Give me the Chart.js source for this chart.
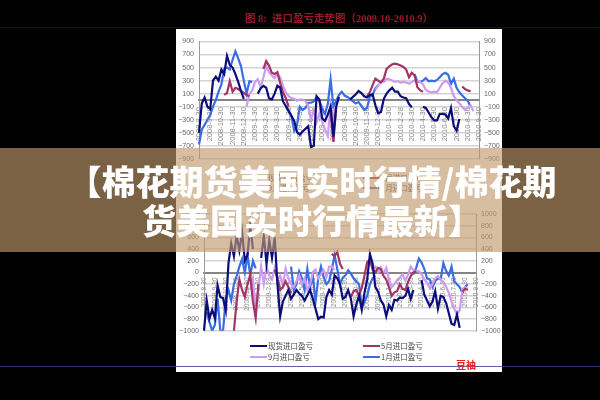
<!DOCTYPE html>
<html>
<head>
<meta charset="utf-8">
<script src="https://cdn.jsdelivr.net/npm/chart.js@4/dist/chart.umd.min.js"></script>
<style>
html, body { margin: 0; padding: 0; background: #000; width: 600px; height: 400px; overflow: hidden; }
div, canvas { position: absolute; }
#panel { left: 176px; top: 29px; width: 326px; height: 343px; background: #fff; }
#rule1 { left: 0; top: 27px; width: 600px; height: 1px; background: #10103c; }
#rule2 { left: 0; top: 366px; width: 600px; height: 1px; background: rgba(60,60,130,0.8); z-index: 4; }
#title { left: 176px; width: 326px; top: 12px; text-align: center; color: #98182a; white-space: pre;
  font: bold 10.5px "Liberation Serif", "Noto Sans CJK SC"; line-height: 14px; filter: blur(0.4px); }
#c1 { left: 176px; top: 28px; filter: blur(0.6px); }
#c2 { left: 176px; top: 205px; filter: blur(0.6px); }
.leg { color: #444; font: 7.5px "Noto Sans CJK SC"; line-height: 10px; white-space: nowrap; filter: blur(0.25px); }
.swatch { height: 2px; width: 17px; }
#band { left: 0; top: 148px; width: 600px; height: 104px; background: rgba(194,154,107,0.64); z-index: 2; }
.headline { left: 12px; width: 600px; text-align: center; color: #fff; z-index: 3; white-space: nowrap;
  font: 900 34px "Noto Sans CJK SC"; line-height: 42px; filter: blur(0.4px); }
#stamp { left: 456px; top: 358px; color: #e8201c; font: bold 10px "Noto Sans CJK SC"; line-height: 14px; z-index: 5; }
</style>
</head>
<body>
<div id="panel"></div>
<div id="rule1"></div>
<div id="title">图 8:  进口盈亏走势图（2008.10-2010.9）</div>
<canvas id="c1" width="326" height="140"></canvas>
<canvas id="c2" width="326" height="135"></canvas>
<div id="legends"></div>
<div id="band"></div>
<div class="headline" style="top:160px">【棉花期货美国实时行情/棉花期</div>
<div class="headline" style="top:199px">货美国实时行情最新】</div>
<div id="rule2"></div>
<div id="stamp">豆袖</div>
<script>
const _ = null;

const seriesNames = ['现货进口盈亏', '5月进口盈亏', '9月进口盈亏', '1月进口盈亏'];
const seriesColors = ['#0c0c7a', '#a23565', '#cc9cf0', '#3a6ce4'];

const months = ['2008-8-30', '2008-9-30', '2008-10-30', '2008-11-30', '2008-12-30',
  '2009-1-30', '2009-2-28', '2009-3-30', '2009-4-30', '2009-5-30', '2009-6-30', '2009-7-30',
  '2009-8-30', '2009-9-30', '2009-10-30', '2009-11-30', '2009-12-30',
  '2010-1-30', '2010-2-28', '2010-3-30', '2010-4-30', '2010-5-30', '2010-6-30', '2010-7-30',
  '2010-8-30', '2010-9-30'];

const topTicks = [-900, -700, -500, -300, -100, 100, 300, 500, 700, 900];
const bottomTicks = [-1000, -800, -600, -400, -200, 0, 200, 400, 600, 800, 1000];

// top chart, four readings per month
const topSpot = [
  -500, -50, 40, -100, -140, 300, 360, 300, 470, 400,
  680, 540, 500, 400, 280, 140, 20, _, _, _,
  _, 100, 180, 220, 190, 30, 10, 100, 220, 190,
  -20, -90, -170, -240, -320, -490, -530, -480, -440, -400,
  -720, -700, 60, 10, -280, -320, -220, -100, -560, -100,
  50, _, _, _, 10, 50, 90, 140, 110, 60,
  40, 80, 90, -80, -200, -180, 20, 100, 150, 190,
  130, 130, 60, 40, 30, -60, -110, _, _, _,
  -100, -120, -190, -260, -310, -310, -210, -210, -220, -280,
  -120, -400, -470, -290, _, _, _, _, _, _, _];
const topMay = [
  _, _, _, _, _, _, _, _, _, 80,
  110, 290, 130, 190, 170, 140, 110, 80, 60, _,
  _, _, _, 480, 600, 530, 420, 400, 430, 260,
  120, 30, -100, _, _, _, _, _, _, _,
  _, _, _, _, _, _, _, -200, -640, -100,
  _, _, _, _, _, _, _, _, _, _,
  60, 120, 230, 330, 300, 270, 330, 480, 520, 550,
  560, 550, 530, 510, 470, 350, 420, 380, 200, 150,
  130, _, _, _, _, _, _, _, _, _,
  _, _, _, _, 210, 170, 150, 135, _, _, _];
const topSep = [
  _, _, _, _, _, _, _, _, _, _,
  _, _, _, _, _, _, _, -100, 100, 150,
  280, 320, 200, 350, 520, 430, 380, 340, 400, 350,
  220, 120, 60, 30, 20, -10, 10, 10, -10, -100,
  -300, -150, -340, -200, -330, -450, -550, -80, -300, -100,
  _, _, _, _, _, _, _, _, _, _,
  _, _, _, 160, 220, 300, 280, 330, 320, 300,
  280, 290, 270, 280, 270, 250, 280, 300, 290, 280,
  240, 160, 130, 120, 130, 120, 190, 260, 300, 270,
  190, 60, 0, -50, -100, -150, -120, -80, -170, _, _];
const topJan = [
  -680, -450, -380, -300, -230, -100, 0, 130, 240, 480,
  500, 470, 620, 750, 640, 520, 300, 100, 290, 280,
  _, _, _, _, _, _, _, _, _, _,
  _, -100, -150, -250, -470, -380, -100, -150, -120, -40,
  -40, -20, 50, -10, -130, -210, -60, 320, -100, -10,
  80, 130, 70, 50, 20, -20, -50, -30, -90, -150,
  -120, 50, 80, 180, 230, _, _, _, _, _,
  _, _, _, _, _, _, _, 400, 280, 280,
  300, 340, 290, 300, 290, 310, 350, 400, 420, 390,
  250, 330, 190, 120, 70, 30, -10, -100, _, _, _];

// bottom chart
const bottomSpot = [
  -1000, -480, -790, -640, -780, -220, -420, -440, -650, 160,
  500, 280, 640, 380, 700, 200, 300, 800, 400, _,
  _, 250, 620, 150, 550, 250, 600, -200, -750, -500,
  -400, -300, -450, -380, -300, -360, -400, -480, -390, -300,
  -450, -620, -800, -760, -770, -420, -300, -380, -50, -100,
  -200, -450, -420, -300, -450, -750, -550, -400, -640, -350,
  -120, 320, 150, -250, -330, -480, -550, -750, -560, -640,
  -470, -480, -430, -440, -400, -280, -450, -300, _, _,
  -130, -380, -480, -580, -500, -320, -620, -400, -420, -520,
  -700, -880, -900, -720, -950, _, _, _, _, _, _];
const bottomMay = [
  _, _, _, _, _, _, _, _, _, _,
  _, -1000, -500, -120, -300, -420, -200, -40, -500, -780,
  -200, _, _, _, _, _, 50, -100, -300, -250,
  -150, -250, -350, _, _, _, _, _, _, _,
  _, _, _, _, _, _, _, 320, 280, 350,
  150, 60, _, _, -420, -320, -300, -400, -260, -50,
  180, 220, 50, 0, 80, 60, -60, -120, -250, -400,
  -340, -320, -200, -280, -300, -160, -60, 0, 20, _,
  _, _, _, _, _, _, _, _, _, _,
  _, _, _, _, _, -330, -280, -300, _, _, _];
const bottomSep = [
  _, _, _, _, _, _, _, _, _, _,
  _, _, _, _, _, _, _, -300, -100, -680,
  -300, 100, -200, 100, -50, -120, 80, -120, -50, -220,
  70, -100, -200, -250, -150, -50, -200, -100, -300, -200,
  0, 50, -100, -30, 40, -80, 100, 100, 40, _,
  _, _, _, _, _, _, _, _, _, _,
  _, _, 60, 100, 0, 90, -20, 80, -120, -250,
  -200, -130, -90, -30, -140, -40, 100, 40, 30, 20,
  -30, -120, -170, -270, -200, -100, -60, -120, -180, -240,
  -350, -500, -620, -720, -650, -300, -250, -280, _, _, _];
const bottomJan = [
  _, -680, -850, -1000, -900, -450, -1000, -1000, -450, -300,
  -480, -200, -60, 100, 230, 0, 300, -50, 200, 70,
  _, _, _, _, _, _, _, _, _, _,
  _, _, 100, -300, -200, 20, -100, -300, 60, -250,
  -50, -500, -100, 100, -80, -200, -150, 50, 300, 60,
  -200, -90, -50, 40, -20, -100, -150, -200, -600, -500,
  -400, -200, -100, -50, _, _, _, _, _, _,
  _, _, _, _, _, _, _, -30, 80, 240,
  170, 60, -100, -120, -250, -150, -100, -120, 160, 30,
  -50, 100, -150, -200, -250, -350, -250, -200, _, _, _];

// one month label followed by three blank weeks
const weekLabels = [];
months.forEach((m, i) => {
  weekLabels.push(m);
  if (i < months.length - 1) weekLabels.push('', '', '');
});

const font = { family: '"Liberation Sans"', size: 7 };

function yAxis(position, ticks, width, showGrid) {
  return {
    position: position,
    min: ticks[0],
    max: ticks[ticks.length - 1],
    afterBuildTicks: axis => { axis.ticks = ticks.map(v => ({ value: v })); },
    afterFit: axis => { axis.width = width; },
    border: { color: '#999', width: 1 },
    grid: { display: showGrid, color: '#d4d4d4', lineWidth: 1.5, drawTicks: false },
    ticks: {
      color: '#666', font: font, padding: 5, autoSkip: false,
      callback: v => String(v).replace('-', '\u2212')
    }
  };
}

function drawChart(id, values, ticks, sizes) {
  return new Chart(document.getElementById(id), {
    type: 'line',
    data: {
      labels: weekLabels,
      datasets: values.map((v, i) => ({
        label: seriesNames[i],
        data: v,
        yAxisID: 'y',
        borderColor: seriesColors[i],
        borderWidth: 2.2,
        pointRadius: 0,
        tension: 0,
        spanGaps: false
      }))
    },
    options: {
      responsive: false,
      animation: false,
      layout: { padding: { top: sizes.top, bottom: sizes.bottom, left: 0, right: 0 } },
      plugins: { legend: { display: false }, tooltip: { enabled: false } },
      scales: {
        x: {
          type: 'category',
          position: { y: 0 },
          border: { color: '#858585', width: 2 },
          grid: { display: false, drawTicks: false },
          ticks: {
            color: '#888', font: { family: '"Liberation Sans"', size: sizes.labelSize },
            autoSkip: false, minRotation: 90, maxRotation: 90, padding: sizes.labelGap
          }
        },
        y: yAxis('left', ticks, sizes.left, true),
        y2: yAxis('right', ticks, sizes.right, false)
      }
    }
  });
}

drawChart('c1', [topSpot, topMay, topSep, topJan], topTicks,
  { top: 13.5, bottom: 9, left: 23, right: 23, labelSize: 7.5, labelGap: 7 });
drawChart('c2', [bottomSpot, bottomMay, bottomSep, bottomJan], bottomTicks,
  { top: 7.4, bottom: 6.3, left: 28, right: 26, labelSize: 6.5, labelGap: 5 });

// legends sit under each chart in two rows of two
const legendRows = [[178, 188], [346, 357]];
const legendColumns = [[250, 268], [363, 381]];
const legends = document.getElementById('legends');
legendRows.forEach(rows => {
  seriesNames.forEach((name, i) => {
    const y = rows[i > 1 ? 1 : 0];
    const col = legendColumns[i % 2 === 0 ? 0 : 1];
    const swatch = document.createElement('div');
    swatch.className = 'swatch';
    swatch.style.cssText = 'left:' + col[0] + 'px;top:' + (y - 1) + 'px;background:' + seriesColors[i];
    const text = document.createElement('div');
    text.className = 'leg';
    text.style.cssText = 'left:' + col[1] + 'px;top:' + (y - 5) + 'px';
    text.textContent = name;
    legends.append(swatch, text);
  });
});
</script>
</body>
</html>
